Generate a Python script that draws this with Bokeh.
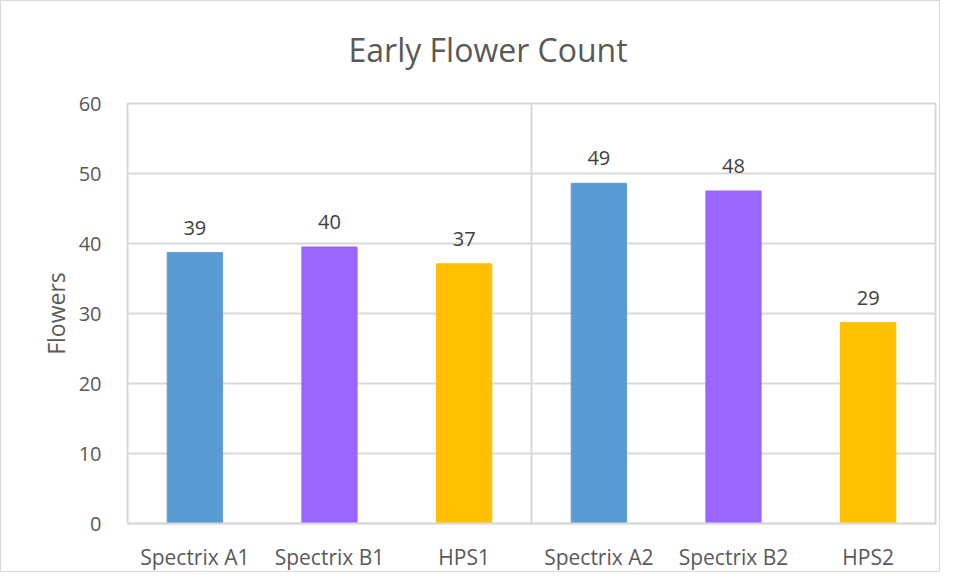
from bokeh.plotting import figure
from bokeh.models import ColumnDataSource, Span, FixedTicker, LabelSet, Title
from bokeh.core.properties import value
from bokeh.embed import file_html
from bokeh.resources import INLINE

categories = ["Spectrix A1", "Spectrix B1", "HPS1", "Spectrix A2", "Spectrix B2", "HPS2"]
flowers = [38.7, 39.5, 37.1, 48.6, 47.5, 28.7]
colors = ["#5B9BD5", "#9966FF", "#FFC000", "#5B9BD5", "#9966FF", "#FFC000"]
y_ticks = [0, 10, 20, 30, 40, 50, 60]

labels = [str(int(v + 0.5)) for v in flowers]
src = ColumnDataSource(dict(cat=categories, val=flowers, color=colors, lab=labels))

FONT = "Open Sans"
TXT = "#595959"
GRID = "#D9D9D9"

p = figure(x_range=categories, y_range=(0, 60), width=940, height=572,
           output_backend="svg", toolbar_location=None,
           min_border_left=126, min_border_right=6, min_border_top=102, min_border_bottom=46)

# spacer between title and plot frame (nearest the frame)
spacer = Title(text=" ", text_font_size="1px", standoff=6)
p.add_layout(spacer, "above")

t = Title(text="Early Flower Count", align="left", text_font=FONT, text_font_size="32px",
          text_color=TXT, text_font_style="normal", offset=221, standoff=47)
p.add_layout(t, "above")

p.vbar(x="cat", top="val", width=0.41, color="color", source=src)

p.add_layout(LabelSet(x="cat", y="val", text="lab", source=src, text_align="center",
                      text_baseline="bottom", y_offset=18, text_font=value(FONT),
                      text_font_size="20px", text_color="#404040"))

p.add_layout(Span(location=3, dimension="height", line_color=GRID, line_width=2))

p.x_range.range_padding = 0
p.outline_line_color = GRID
p.outline_line_width = 2
p.xgrid.grid_line_color = None
p.ygrid.grid_line_color = GRID
p.ygrid.grid_line_width = 2
p.yaxis.ticker = FixedTicker(ticks=y_ticks)

p.yaxis.axis_line_color = None
p.yaxis.major_tick_line_color = None
p.yaxis.minor_tick_line_color = None
p.yaxis.major_label_text_font = FONT
p.yaxis.major_label_text_font_size = "20px"
p.yaxis.major_label_text_color = TXT
p.yaxis.major_label_standoff = 20
p.yaxis.axis_label = "Flowers"
p.yaxis.axis_label_text_font = FONT
p.yaxis.axis_label_text_font_size = "23px"
p.yaxis.axis_label_text_font_style = "normal"
p.yaxis.axis_label_text_color = TXT
p.yaxis.axis_label_standoff = 4

p.xaxis.axis_line_color = GRID
p.xaxis.axis_line_width = 2
p.xaxis.major_tick_line_color = None
p.xaxis.minor_tick_line_color = None
p.xaxis.major_label_text_font = FONT
p.xaxis.major_label_text_font_size = "21px"
p.xaxis.major_label_text_color = TXT
p.xaxis.major_label_standoff = 13
p.styles = {"border": "1px solid #D9D9D9"}

open("out.html", "w").write(file_html(p, INLINE))
